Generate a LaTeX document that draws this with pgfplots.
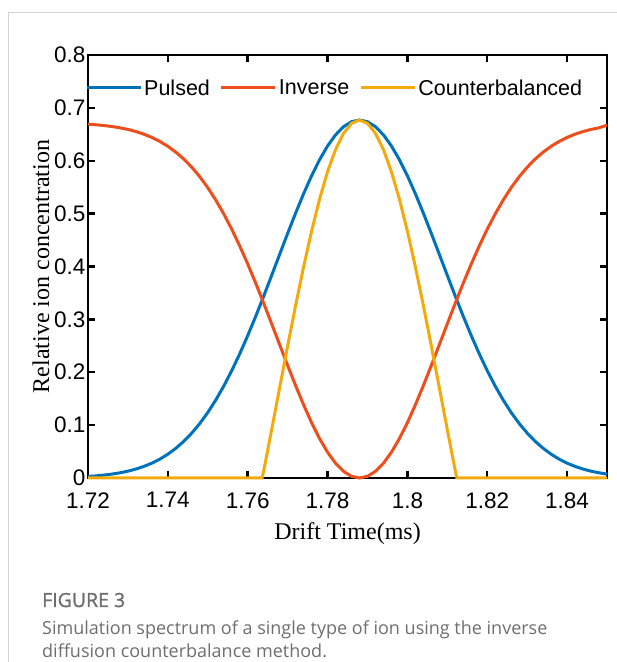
\documentclass[border=0pt]{standalone}
\usepackage{pgfplots}
\pgfplotsset{compat=1.18}
\usepackage{fontspec}
\setmainfont{Liberation Serif}
\newfontfamily\arial{Liberation Sans}
\newfontfamily\capfont{Open Sans}
\newfontfamily\capfontb{Open Sans}[FakeBold=1.2]
\definecolor{mblue}{HTML}{0072BD}
\definecolor{mred}{HTML}{EE4E1B}
\definecolor{morange}{HTML}{F5AA0C}
\definecolor{framegray}{HTML}{D3D3D3}
\definecolor{capgray}{HTML}{6E6E6E}
\begin{document}
\begin{tikzpicture}[x=1bp,y=1bp]
\path[use as bounding box] (0,0) rectangle (617,662);
\draw[framegray, line width=1bp] (8.5,0) -- (8.5,649) -- (617,649);
\node[anchor=base west, inner sep=0pt, text=capgray, font=\capfontb\fontsize{19.5bp}{22bp}\selectfont] at (42,55) {FIGURE 3};
\node[anchor=base west, inner sep=0pt, text=capgray, font=\capfont\fontsize{18bp}{21bp}\selectfont] at (42,27) {Simulation spectrum of a single type of ion using the inverse};
\node[anchor=base west, inner sep=0pt, text=capgray, font=\capfont\fontsize{18bp}{21bp}\selectfont] at (42,4) {diffusion counterbalance method.};
\begin{axis}[
  at={(88bp,184bp)}, anchor=south west, scale only axis,
  width=519bp, height=423bp,
  xmin=1.72, xmax=1.85, ymin=0, ymax=0.8,
  xtick={1.72,1.74,1.76,1.78,1.80,1.82,1.84},
  xticklabels={1.72,1.74,1.76,1.78,1.8,1.82,1.84},
  ytick={0,0.1,0.2,0.3,0.4,0.5,0.6,0.7,0.8},
  yticklabels={0,0.1,0.2,0.3,0.4,0.5,0.6,0.7,0.8},
  tick align=inside, tick pos=both,
  major tick length=7bp,
  axis line style={line width=2.4bp, black},
  every tick/.style={black, line width=2.4bp},
  tick label style={font=\arial\fontsize{22.5bp}{26bp}\selectfont, text=black},
  xticklabel style={yshift=-11bp},
  yticklabel style={xshift=1bp},
  xlabel={Drift Time(ms)}, ylabel={Relative ion concentration},
  label style={font=\fontsize{24bp}{28bp}\selectfont},
  xlabel style={yshift=-7bp},
  ylabel style={yshift=-2bp},
  clip=false,
  legend columns=-1,
  legend style={draw=none, fill=none, at={(axis cs:1.7185,0.7376)}, anchor=west,
    font=\arial\fontsize{21.5bp}{25bp}\selectfont,
    /tikz/every even column/.append style={column sep=8bp}},
  legend image code/.code={\draw[#1] (0bp,0bp) -- (54bp,0bp);},
  every axis plot/.append style={line width=3bp},
]
\addplot[mblue] coordinates {
(1.720,0.0029)(1.722,0.0040)(1.724,0.0055)(1.726,0.0074)(1.728,0.0098)(1.730,0.0129)
(1.732,0.0169)(1.734,0.0219)(1.736,0.0281)(1.738,0.0357)(1.740,0.0450)(1.742,0.0562)
(1.744,0.0694)(1.746,0.0850)(1.748,0.1031)(1.750,0.1238)(1.752,0.1474)(1.754,0.1738)
(1.756,0.2030)(1.758,0.2348)(1.760,0.2692)(1.762,0.3056)(1.764,0.3438)(1.766,0.3831)
(1.768,0.4229)(1.770,0.4624)(1.772,0.5009)(1.774,0.5376)(1.776,0.5715)(1.778,0.6019)
(1.780,0.6279)(1.782,0.6489)(1.784,0.6644)(1.786,0.6738)(1.788,0.6770)
(1.790,0.6738)(1.792,0.6644)(1.794,0.6489)(1.796,0.6279)(1.798,0.6019)(1.800,0.5715)
(1.802,0.5376)(1.804,0.5009)(1.806,0.4624)(1.808,0.4229)(1.810,0.3831)(1.812,0.3438)
(1.814,0.3056)(1.816,0.2692)(1.818,0.2348)(1.820,0.2030)(1.822,0.1738)(1.824,0.1474)
(1.826,0.1238)(1.828,0.1031)(1.830,0.0850)(1.832,0.0694)(1.834,0.0562)(1.836,0.0450)
(1.838,0.0357)(1.840,0.0281)(1.842,0.0219)(1.844,0.0169)(1.846,0.0129)(1.848,0.0098)
(1.850,0.0074)
};
\addlegendentry{Pulsed}
\addplot[mred] coordinates {
(1.720,0.6691)(1.722,0.6680)(1.724,0.6666)(1.726,0.6647)(1.728,0.6623)(1.730,0.6592)
(1.732,0.6552)(1.734,0.6502)(1.736,0.6441)(1.738,0.6365)(1.740,0.6273)(1.742,0.6162)
(1.744,0.6031)(1.746,0.5877)(1.748,0.5697)(1.750,0.5491)(1.752,0.5257)(1.754,0.4995)
(1.756,0.4705)(1.758,0.4389)(1.760,0.4048)(1.762,0.3686)(1.764,0.3307)(1.766,0.2917)
(1.768,0.2522)(1.770,0.2130)(1.772,0.1748)(1.774,0.1384)(1.776,0.1047)(1.778,0.0746)
(1.780,0.0487)(1.782,0.0279)(1.784,0.0125)(1.786,0.0032)(1.788,0.0000)
(1.790,0.0032)(1.792,0.0125)(1.794,0.0279)(1.796,0.0487)(1.798,0.0746)(1.800,0.1047)
(1.802,0.1384)(1.804,0.1748)(1.806,0.2130)(1.808,0.2522)(1.810,0.2917)(1.812,0.3307)
(1.814,0.3686)(1.816,0.4048)(1.818,0.4389)(1.820,0.4705)(1.822,0.4995)(1.824,0.5257)
(1.826,0.5491)(1.828,0.5697)(1.830,0.5877)(1.832,0.6031)(1.834,0.6162)(1.836,0.6273)
(1.838,0.6365)(1.840,0.6441)(1.842,0.6502)(1.844,0.6552)(1.846,0.6592)(1.848,0.6623)
(1.850,0.6672)
};
\addlegendentry{Inverse}
\addplot[morange] coordinates {
(1.720,0)(1.7636,0)(1.764,0.0131)(1.766,0.0913)(1.768,0.1706)(1.770,0.2495)
(1.772,0.3262)(1.774,0.3992)(1.776,0.4668)(1.778,0.5273)(1.780,0.5792)(1.782,0.6211)
(1.784,0.6518)(1.786,0.6707)(1.788,0.6770)(1.790,0.6707)(1.792,0.6518)(1.794,0.6211)
(1.796,0.5792)(1.798,0.5273)(1.800,0.4668)(1.802,0.3992)(1.804,0.3262)(1.806,0.2495)
(1.808,0.1706)(1.810,0.0913)(1.812,0.0131)(1.8124,0)(1.850,0)
};
\addlegendentry{Counterbalanced}
\end{axis}
\end{tikzpicture}
\end{document}
